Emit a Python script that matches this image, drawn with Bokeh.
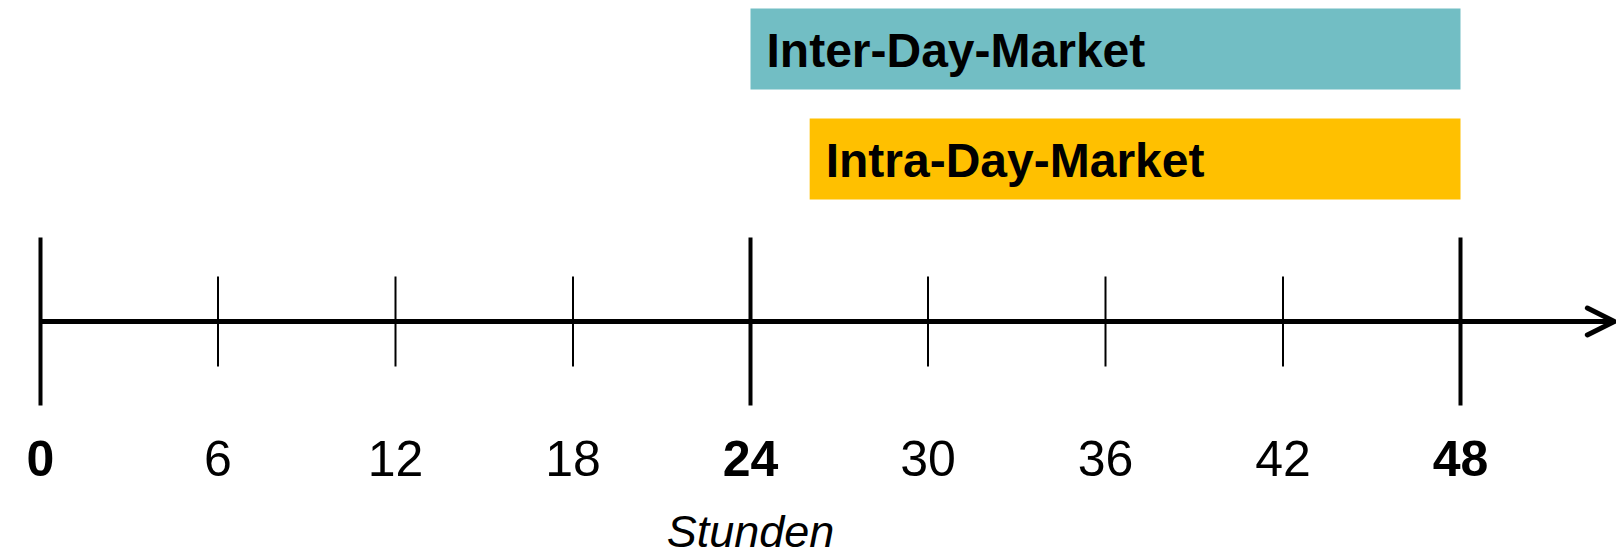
from bokeh.plotting import figure
from bokeh.models import ColumnDataSource, Range1d, Arrow, OpenHead
from bokeh.core.properties import value
from bokeh.embed import file_html
from bokeh.resources import INLINE

# --- data ---------------------------------------------------------------
hours = [0, 6, 12, 18, 24, 30, 36, 42, 48]
tick_labels = ["0", "6", "12", "18", "24", "30", "36", "42", "48"]
day_marks = [0, 24, 48]          # day boundaries: taller ticks, bold labels

markets = ["Inter-Day-Market", "Intra-Day-Market"]
market_start = [24, 26]
market_end = [48, 48]
market_colors = ["#72BEC4", "#FFC000"]

axis_title = "Stunden"
axis_end = 53.2                  # where the time arrow stops

# --- layout -------------------------------------------------------------
W, H = 1616, 549
FONT = "Liberation Sans"
left_px, right_px = 40, 1460     # pixel columns of hour 0 and hour 48
k = (right_px - left_px) / 48.0  # pixels per hour
LIFT = 0.35                      # svg baseline correction, in em

axis_y = 321                     # rows counted from the top
major_half, minor_half = 84, 45
row_top = [8, 118]
row_bottom = [89, 199]
row_text_base = [67, 177]

p = figure(width=W, height=H,
           x_range=Range1d(-left_px / k, (W - left_px) / k),
           y_range=Range1d(H, 0),
           output_backend="svg", toolbar_location=None,
           x_axis_location=None, y_axis_location=None,
           min_border=0, background_fill_color="white",
           border_fill_color="white")
p.grid.visible = False
p.outline_line_color = None

# market bars
bars = ColumnDataSource(dict(
    left=market_start, right=market_end, top=row_top, bottom=row_bottom,
    color=market_colors, name=markets, base=row_text_base,
))
p.quad(left="left", right="right", top="top", bottom="bottom",
       fill_color="color", line_color=None, source=bars)
p.text(x="left", y="base", text="name", source=bars,
       x_offset=16, y_offset=-LIFT * 48,
       text_font=value(FONT), text_font_style="bold",
       text_font_size="48px", text_color="black",
       text_align="left", text_baseline="alphabetic")

# time arrow
p.add_layout(Arrow(x_start=0, y_start=axis_y, x_end=axis_end, y_end=axis_y,
                   line_width=5, line_color="black",
                   end=OpenHead(size=27, line_width=5, line_color="black",
                                line_cap="round", line_join="round")))

# ticks
is_major = [h in day_marks for h in hours]
ticks = ColumnDataSource(dict(
    x=hours,
    y0=[axis_y - (major_half if m else minor_half) for m in is_major],
    y1=[axis_y + (major_half if m else minor_half) for m in is_major],
    w=[4 if m else 2 for m in is_major],
    label=tick_labels,
    style=["bold" if m else "normal" for m in is_major],
    base=[475] * len(hours),
))
p.segment(x0="x", y0="y0", x1="x", y1="y1", line_width="w",
          line_color="black", source=ticks)
p.text(x="x", y="base", text="label", text_font_style="style", source=ticks,
       y_offset=-LIFT * 50,
       text_font=value(FONT), text_font_size="50px", text_color="black",
       text_align="center", text_baseline="alphabetic")

# axis title, centred under the two days
p.text(x=[(hours[0] + hours[-1]) / 2], y=[531], text=[axis_title],
       text_font=value(FONT), text_font_style="italic",
       text_font_size="45px", text_color="black",
       text_align="center", text_baseline="middle")

open("out.html", "w").write(file_html(p, INLINE))
